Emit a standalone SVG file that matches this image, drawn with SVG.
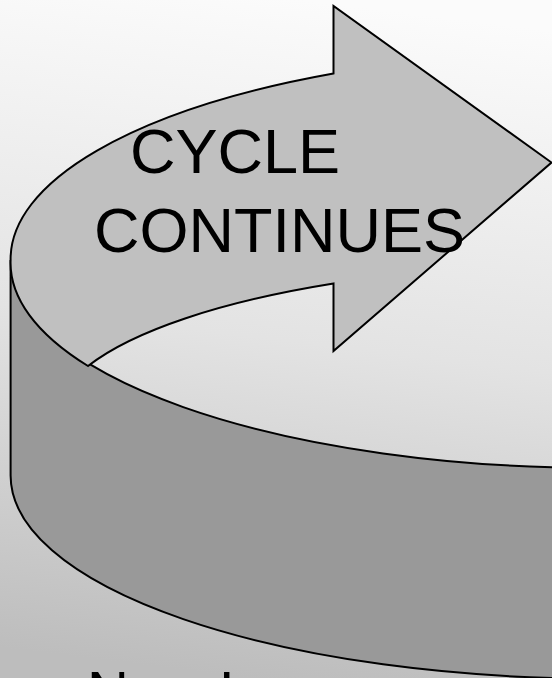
<svg xmlns="http://www.w3.org/2000/svg" width="552" height="678" viewBox="0 0 552 678">
  <defs>
    <linearGradient id="bg" x1="0.55" y1="0" x2="0.45" y2="1">
      <stop offset="0" stop-color="#fbfbfb"/>
      <stop offset="0.5" stop-color="#e3e3e3"/>
      <stop offset="1" stop-color="#bdbdbd"/>
    </linearGradient>
  </defs>
  <style>
    .edge { stroke: #000000; stroke-width: 2; stroke-linejoin: miter; }
    .label { font-family: "Liberation Sans", Arial, sans-serif; fill: #000000; }
  </style>
  <rect id="background" x="0" y="0" width="552" height="678" fill="url(#bg)"/>
  <g id="wall">
    <path class="edge" fill="#999999" d="M 10.6 260 L 10.6 475.6 A 589.4 203 0 0 0 600 678.6 L 600 468 A 589.4 208 0 0 1 10.6 260 Z"/>
  </g>
  <g id="arrow-band">
    <path class="edge" fill="#c0c0c0" d="M 10.6 260 A 589.4 208 0 0 1 333.5 73.5 L 333.5 6 L 551.5 162.5 L 333.5 351 L 333.5 283.5 A 545.5 156.5 0 0 0 88 366 A 589.4 208 0 0 1 10.6 260 Z"/>
  </g>
  <g id="label-cycle">
    <text class="label" x="130" y="173" font-size="63">CYCLE</text>
    <text class="label" x="94" y="251.5" font-size="63">CONTINUES</text>
  </g>
  <g id="label-bottom">
    <text class="label" x="87" y="712" font-size="58">New Leaves</text>
  </g>
</svg>
